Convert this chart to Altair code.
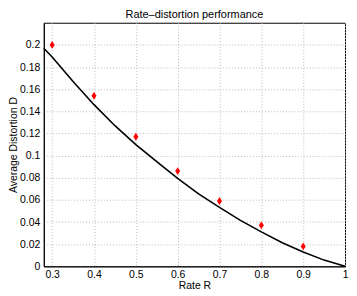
import altair as alt
import pandas as pd

# Measured points (red diamonds)
rate_pts = [0.3, 0.4, 0.5, 0.6, 0.7, 0.8, 0.9]
dist_pts = [0.200, 0.154, 0.117, 0.086, 0.059, 0.037, 0.018]

# Theoretical curve
rate_curve = [0.28, 0.30, 0.35, 0.40, 0.45, 0.50, 0.55, 0.60, 0.65, 0.70, 0.75, 0.80, 0.85, 0.90, 0.95, 1.00]
dist_curve = [0.197, 0.189, 0.167, 0.146, 0.127, 0.110, 0.0945, 0.0795, 0.0655, 0.0532, 0.0415, 0.0311, 0.0213, 0.0130, 0.0056, 0.0]

x_ticks = [0.3, 0.4, 0.5, 0.6, 0.7, 0.8, 0.9, 1.0]
y_ticks = [0, 0.02, 0.04, 0.06, 0.08, 0.1, 0.12, 0.14, 0.16, 0.18, 0.2]

pts = pd.DataFrame({"R": rate_pts, "D": dist_pts})
curve = pd.DataFrame({"R": rate_curve, "D": dist_curve})

FONT = "Liberation Sans"

x_enc = alt.X("R:Q", scale=alt.Scale(domain=[0.28, 1.0], nice=False, zero=False),
              axis=alt.Axis(title="Rate R", values=x_ticks, format="~g",
                            labelPadding=3, titlePadding=1))
y_enc = alt.Y("D:Q", scale=alt.Scale(domain=[0, 0.22], nice=False),
              axis=alt.Axis(title="Average Distortion D", values=y_ticks, format="~g",
                            labelPadding=4, titlePadding=1))

line = alt.Chart(curve).mark_line(color="black", strokeWidth=1.6).encode(x=x_enc, y=y_enc)
diamonds = alt.Chart(pts).mark_point(
    shape="M0,-1.25L0.8,0L0,1.25L-0.8,0Z", filled=True, color="red", opacity=1, size=40
).encode(x=x_enc, y=y_enc)

chart = (line + diamonds).properties(
    width=343, height=284,
    autosize=alt.AutoSizeParams(type="fit", contains="padding"),
    title=alt.TitleParams("Rate\u2013distortion performance", fontSize=11, font=FONT,
                          fontWeight="normal", color="black", offset=3),
    padding={"left": 0, "top": 0, "right": 0, "bottom": 0},
).configure(background="white").configure_view(stroke="black", strokeWidth=1).configure_axis(
    labelFont=FONT, titleFont=FONT, labelFontSize=10.5, titleFontSize=10.5,
    titleFontWeight="normal", labelColor="black", titleColor="black",
    domainColor="black", ticks=False,
    labelOverlap=False, labelFlush=False,
    gridColor="#bbbbbb", gridDash=[1, 2], gridWidth=1,
)

chart.save("out.html", embed_options={"renderer": "svg", "actions": False})
